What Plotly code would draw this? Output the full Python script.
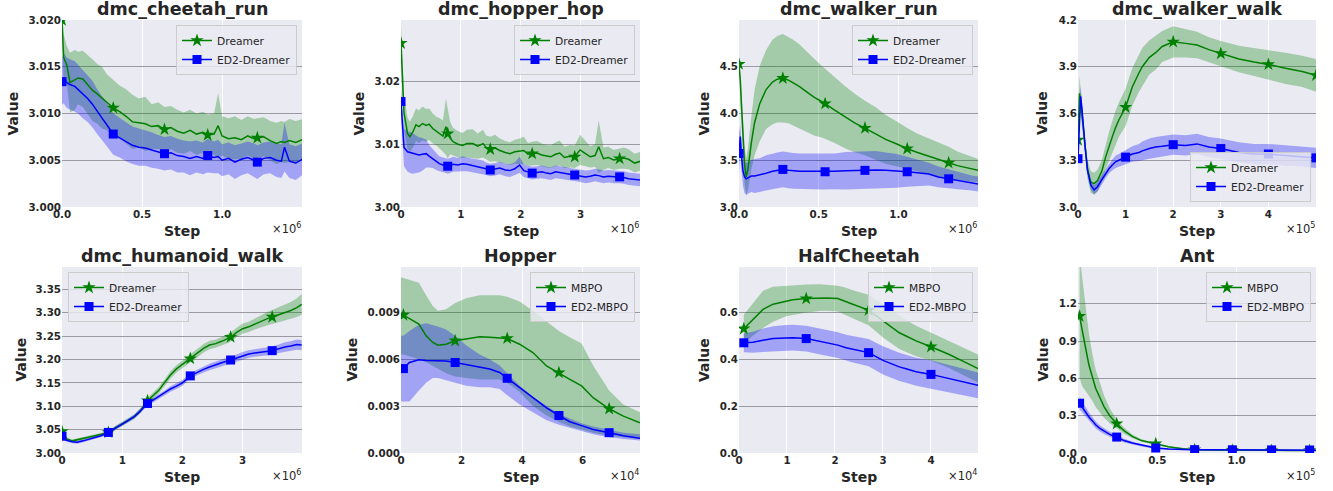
import plotly.graph_objects as go

# ---------------- data ----------------
# dmc_cheetah_run (Step in units of 1e6)
CHEETAH_STEP = [0, 0.01, 0.03, 0.05, 0.08, 0.1, 0.13, 0.16, 0.19, 0.22, 0.25, 0.28, 0.32, 0.36, 0.4, 0.44, 0.48, 0.52, 0.56, 0.6,
                0.64, 0.68, 0.72, 0.76, 0.8, 0.84, 0.88, 0.91, 0.95, 0.975, 1.0, 1.04, 1.08, 1.12, 1.16, 1.2, 1.22, 1.26, 1.3, 1.34,
                1.37, 1.39, 1.42, 1.46, 1.5]
CHEETAH_DREAMER = [3.0200, 3.0160, 3.0152, 3.0133, 3.0136, 3.0138, 3.0137, 3.0131, 3.0125, 3.0121, 3.0117, 3.0112, 3.0106, 3.0102,
                   3.0097, 3.0091, 3.0090, 3.0089, 3.0086, 3.0087, 3.0083, 3.0085, 3.0081, 3.0079, 3.0082, 3.0078, 3.0080, 3.0077,
                   3.0078, 3.0087, 3.0076, 3.0073, 3.0074, 3.0072, 3.0076, 3.0073, 3.0074, 3.0075, 3.0071, 3.0068, 3.0070, 3.0069,
                   3.0071, 3.0069, 3.0072]
CHEETAH_DREAMER_STD = [0.0015, 0.0025, 0.0020, 0.0032, 0.0032, 0.0028, 0.0030, 0.0032, 0.0033, 0.0032, 0.0033, 0.0030, 0.0030, 0.0028,
                       0.0029, 0.0029, 0.0026, 0.0029, 0.0024, 0.0025, 0.0024, 0.0023, 0.0023, 0.0022, 0.0022, 0.0022, 0.0022, 0.0022,
                       0.0022, 0.0035, 0.0021, 0.0022, 0.0023, 0.0021, 0.0021, 0.0021, 0.0021, 0.0021, 0.0021, 0.0022, 0.0022, 0.0022,
                       0.0023, 0.0023, 0.0022]
CHEETAH_ED2 = [3.0134, 3.0138, 3.0133, 3.0131, 3.0129, 3.0126, 3.0121, 3.0116, 3.0110, 3.0102, 3.0095, 3.0088, 3.0078, 3.0074,
               3.0070, 3.0066, 3.0064, 3.0063, 3.0061, 3.0059, 3.0057, 3.0058, 3.0055, 3.0054, 3.0052, 3.0054, 3.0052, 3.0055,
               3.0053, 3.0054, 3.0050, 3.0052, 3.0048, 3.0051, 3.0053, 3.0050, 3.0048, 3.0052, 3.0053, 3.0050, 3.0049, 3.0064,
               3.0049, 3.0047, 3.0051]
CHEETAH_ED2_STD = [0.0025, 0.0027, 0.0027, 0.0027, 0.0027, 0.0026, 0.0026, 0.0025, 0.0025, 0.0024, 0.0024, 0.0023, 0.0022, 0.0021,
                   0.0021, 0.0020, 0.0020, 0.0019, 0.0019, 0.0018, 0.0018, 0.0018, 0.0018, 0.0017, 0.0018, 0.0017, 0.0017, 0.0018,
                   0.0017, 0.0018, 0.0017, 0.0017, 0.0018, 0.0017, 0.0017, 0.0018, 0.0018, 0.0017, 0.0017, 0.0018, 0.0018, 0.0026,
                   0.0018, 0.0018, 0.0017]
CHEETAH_MARKS = [0, 0.32, 0.64, 0.91, 1.22]

# dmc_hopper_hop (Step in units of 1e6)
HOP_STEP = [0, 0.05, 0.11, 0.15, 0.2, 0.25, 0.3, 0.36, 0.42, 0.47, 0.53, 0.59, 0.64, 0.7, 0.75, 0.78, 0.82, 0.87, 0.95, 1.03,
            1.1, 1.2, 1.28, 1.37, 1.42, 1.49, 1.57, 1.65, 1.74, 1.82, 1.9, 1.98, 2.05, 2.12, 2.19, 2.27, 2.35, 2.43, 2.5, 2.58,
            2.65, 2.73, 2.82, 2.9, 2.99, 3.08, 3.16, 3.24, 3.3, 3.38, 3.46, 3.55, 3.65, 3.72, 3.8, 3.9, 4.0]
HOP_DREAMER = [3.0261, 3.0150, 3.0117, 3.0112, 3.0120, 3.0131, 3.0128, 3.0133, 3.0130, 3.0132,
               3.0125, 3.0121, 3.0118, 3.0113, 3.0128, 3.0117, 3.0110, 3.0104, 3.0100, 3.0098,
               3.0101, 3.0101, 3.0097, 3.0101, 3.0095, 3.0092, 3.0094, 3.0090, 3.0087, 3.0085,
               3.0088, 3.0089, 3.0090, 3.0084, 3.0085, 3.0086, 3.0083, 3.0081, 3.0080, 3.0084,
               3.0086, 3.0079, 3.0081, 3.0080, 3.0091, 3.0085, 3.0080, 3.0082, 3.0096, 3.0077,
               3.0079, 3.0075, 3.0077, 3.0078, 3.0076, 3.0070, 3.0073]
HOP_DREAMER_STD = [0.0030, 0.0028, 0.0025, 0.0024, 0.0025, 0.0026, 0.0026, 0.0027, 0.0026, 0.0025,
                   0.0024, 0.0023, 0.0024, 0.0025, 0.0045, 0.0040, 0.0026, 0.0022, 0.0021, 0.0020,
                   0.0022, 0.0023, 0.0020, 0.0022, 0.0019, 0.0020, 0.0021, 0.0019, 0.0018, 0.0018,
                   0.0019, 0.0020, 0.0022, 0.0018, 0.0019, 0.0019, 0.0018, 0.0018, 0.0018, 0.0019,
                   0.0020, 0.0017, 0.0018, 0.0018, 0.0024, 0.0020, 0.0017, 0.0018, 0.0042, 0.0018,
                   0.0017, 0.0016, 0.0016, 0.0017, 0.0016, 0.0015, 0.0015]
HOP_ED2 = [3.0168, 3.0095, 3.0088, 3.0087, 3.0085, 3.0084, 3.0083, 3.0084, 3.0085, 3.0081,
           3.0077, 3.0072, 3.0069, 3.0067, 3.0066, 3.0065, 3.0066, 3.0068, 3.0067, 3.0069,
           3.0068, 3.0066, 3.0064, 3.0063, 3.0061, 3.0059, 3.0060, 3.0062, 3.0059, 3.0058,
           3.0061, 3.0067, 3.0058, 3.0056, 3.0054, 3.0055, 3.0056, 3.0054, 3.0053, 3.0056,
           3.0055, 3.0054, 3.0052, 3.0051, 3.0050, 3.0048, 3.0049, 3.0051, 3.0050, 3.0048,
           3.0049, 3.0048, 3.0048, 3.0047, 3.0045, 3.0044, 3.0043]
HOP_ED2_STD = [0.0020, 0.0030, 0.0032, 0.0033, 0.0032, 0.0030, 0.0028, 0.0026, 0.0022, 0.0018,
               0.0015, 0.0013, 0.0012, 0.0012, 0.0012, 0.0012, 0.0012, 0.0012, 0.0011, 0.0012,
               0.0011, 0.0011, 0.0011, 0.0011, 0.0010, 0.0010, 0.0010, 0.0010, 0.0010, 0.0010,
               0.0010, 0.0013, 0.0010, 0.0010, 0.0010, 0.0010, 0.0010, 0.0010, 0.0010, 0.0010,
               0.0010, 0.0010, 0.0010, 0.0010, 0.0010, 0.0010, 0.0010, 0.0010, 0.0010, 0.0010,
               0.0010, 0.0010, 0.0010, 0.0010, 0.0010, 0.0010, 0.0010]
HOP_MARKS = [0, 0.78, 1.49, 2.19, 2.9, 3.65]

# dmc_walker_run (Step in units of 1e6)
WRUN_STEP = [0, 0.008, 0.015, 0.025, 0.035, 0.045, 0.056, 0.077, 0.098, 0.13, 0.17, 0.21, 0.24, 0.275, 0.31, 0.34, 0.38, 0.42,
             0.47, 0.52, 0.54, 0.6, 0.67, 0.73, 0.79, 0.86, 0.92, 0.99, 1.055, 1.12, 1.19, 1.25, 1.315, 1.37, 1.42, 1.46, 1.5]
WRUN_DREAMER = [4.52, 4.35, 4.10, 3.75, 3.45, 3.32, 3.40, 3.68, 3.90, 4.10,
                4.25, 4.33, 4.36, 4.37, 4.35, 4.32, 4.28, 4.23, 4.17, 4.12,
                4.10, 4.03, 3.95, 3.89, 3.84, 3.78, 3.72, 3.67, 3.62, 3.58,
                3.54, 3.50, 3.47, 3.44, 3.42, 3.40, 3.39]
WRUN_DREAMER_STD = [0.04, 0.08, 0.15, 0.20, 0.20, 0.20, 0.22, 0.28, 0.35, 0.40,
                    0.42, 0.45, 0.46, 0.47, 0.46, 0.46, 0.45, 0.43, 0.41, 0.38,
                    0.37, 0.35, 0.33, 0.31, 0.29, 0.28, 0.26, 0.24, 0.22, 0.20,
                    0.19, 0.18, 0.17, 0.15, 0.14, 0.13, 0.12]
WRUN_ED2 = [3.57, 3.75, 3.55, 3.38, 3.32, 3.30, 3.31, 3.33, 3.33, 3.34,
            3.36, 3.38, 3.39, 3.40, 3.39, 3.385, 3.38, 3.38, 3.38, 3.375,
            3.375, 3.38, 3.385, 3.39, 3.39, 3.395, 3.39, 3.385, 3.375, 3.365,
            3.35, 3.32, 3.30, 3.28, 3.27, 3.255, 3.245]
WRUN_ED2_STD = [0.22, 0.12, 0.15, 0.16, 0.17, 0.17, 0.17, 0.17, 0.18, 0.18,
                0.19, 0.19, 0.19, 0.19, 0.19, 0.19, 0.19, 0.19, 0.19, 0.19,
                0.19, 0.19, 0.20, 0.20, 0.20, 0.20, 0.19, 0.18, 0.16, 0.14,
                0.12, 0.11, 0.10, 0.09, 0.085, 0.08, 0.08]
WRUN_MARKS = [0, 0.275, 0.54, 0.79, 1.055, 1.315]

# dmc_walker_walk (Step in units of 1e5)
WWALK_STEP = [0, 0.03, 0.055, 0.08, 0.11, 0.15, 0.2, 0.27, 0.34, 0.41, 0.5, 0.58, 0.65, 0.72, 0.79, 0.86, 1.0, 1.14, 1.28,
              1.35, 1.5, 1.63, 1.77, 2.0, 2.26, 2.5, 2.75, 3.0, 3.38, 3.7, 4.0, 4.36, 4.71, 5.0]
WWALK_DREAMER = [3.43, 3.73, 3.68, 3.60, 3.50, 3.37, 3.24, 3.16, 3.15, 3.17,
                 3.23, 3.32, 3.39, 3.45, 3.51, 3.56, 3.64, 3.77, 3.86, 3.90,
                 3.96, 3.99, 4.03, 4.06, 4.05, 4.04, 4.01, 3.985, 3.95, 3.93,
                 3.915, 3.89, 3.87, 3.845]
WWALK_DREAMER_STD = [0.03, 0.11, 0.08, 0.07, 0.06, 0.06, 0.06, 0.07, 0.07, 0.07,
                     0.07, 0.08, 0.09, 0.10, 0.11, 0.11, 0.12, 0.12, 0.12, 0.12,
                     0.11, 0.11, 0.10, 0.10, 0.09, 0.085, 0.08, 0.08, 0.085, 0.09,
                     0.095, 0.10, 0.10, 0.105]
WWALK_ED2 = [3.31, 3.55, 3.71, 3.64, 3.52, 3.385, 3.235, 3.14, 3.11, 3.13,
             3.175, 3.215, 3.245, 3.27, 3.29, 3.30, 3.32, 3.34, 3.35, 3.36,
             3.375, 3.385, 3.39, 3.40, 3.395, 3.405, 3.385, 3.375, 3.35, 3.34,
             3.34, 3.33, 3.325, 3.315]
WWALK_ED2_STD = [0.02, 0.05, 0.07, 0.05, 0.04, 0.03, 0.03, 0.03, 0.03, 0.03,
                 0.03, 0.03, 0.03, 0.035, 0.04, 0.04, 0.045, 0.05, 0.055, 0.06,
                 0.065, 0.065, 0.065, 0.065, 0.065, 0.065, 0.065, 0.065, 0.065, 0.065,
                 0.065, 0.065, 0.065, 0.065]
WWALK_MARKS = [0, 1.0, 2.0, 3.0, 4.0, 5.0]

# dmc_humanoid_walk (Step in units of 1e6)
HUM_STEP = [0, 0.08, 0.17, 0.25, 0.35, 0.45, 0.55, 0.65, 0.77, 0.9, 1.0, 1.1, 1.2, 1.3, 1.42, 1.5, 1.6, 1.7, 1.8, 1.9,
            2.0, 2.13, 2.25, 2.35, 2.45, 2.55, 2.65, 2.8, 2.9, 3.0, 3.1, 3.2, 3.3, 3.4, 3.49, 3.6, 3.7, 3.8, 3.9, 3.98]
HUM_DREAMER = [3.046, 3.030, 3.026, 3.028, 3.031, 3.034, 3.037, 3.040, 3.044, 3.055,
               3.062, 3.070, 3.078, 3.090, 3.112, 3.122, 3.133, 3.150, 3.167, 3.180,
               3.190, 3.202, 3.213, 3.224, 3.231, 3.234, 3.239, 3.248, 3.258, 3.266,
               3.270, 3.276, 3.282, 3.287, 3.291, 3.296, 3.300, 3.305, 3.311, 3.318]
HUM_DREAMER_STD = [0.004, 0.003, 0.003, 0.003, 0.003, 0.003, 0.003, 0.003, 0.003, 0.004,
                   0.005, 0.005, 0.005, 0.005, 0.006, 0.006, 0.007, 0.007, 0.008, 0.008,
                   0.008, 0.008, 0.008, 0.009, 0.009, 0.009, 0.009, 0.010, 0.010, 0.011,
                   0.011, 0.012, 0.013, 0.014, 0.015, 0.016, 0.017, 0.018, 0.020, 0.022]
HUM_ED2 = [3.036, 3.027, 3.024, 3.023, 3.026, 3.030, 3.033, 3.037, 3.044, 3.055,
           3.062, 3.070, 3.078, 3.090, 3.106, 3.112, 3.120, 3.128, 3.137, 3.143,
           3.150, 3.165, 3.173, 3.179, 3.184, 3.189, 3.193, 3.199, 3.203, 3.208,
           3.212, 3.214, 3.216, 3.218, 3.219, 3.223, 3.227, 3.229, 3.232, 3.231]
HUM_ED2_STD = [0.006, 0.003, 0.003, 0.003, 0.003, 0.003, 0.003, 0.003, 0.003, 0.004,
               0.004, 0.004, 0.004, 0.005, 0.005, 0.005, 0.005, 0.005, 0.006, 0.006,
               0.006, 0.006, 0.006, 0.007, 0.007, 0.007, 0.007, 0.007, 0.008, 0.008,
               0.008, 0.008, 0.008, 0.009, 0.009, 0.009, 0.010, 0.010, 0.011, 0.011]
HUM_MARKS = [0, 0.77, 1.42, 2.13, 2.8, 3.49]

# Hopper (Step in units of 1e4)
HOPPER_STEP = [0, 0.08, 0.28, 0.59, 0.83, 1.05, 1.22, 1.49, 1.79, 2.15, 2.6, 2.93, 3.26, 3.51, 3.92, 4.36, 4.81, 5.22,
               5.58, 5.97, 6.35, 6.88, 7.35, 7.9]
HOPPER_MBPO = [0.0088, 0.00883, 0.0086, 0.00825, 0.0075, 0.00707, 0.0069, 0.00696, 0.00718, 0.00729,
               0.00744, 0.00741, 0.00737, 0.00733, 0.00696, 0.00643, 0.00557, 0.00514, 0.00471, 0.00429,
               0.00354, 0.00283, 0.00236, 0.00193]
HOPPER_MBPO_LO = [0.0063, 0.0063, 0.0062, 0.0060, 0.0058, 0.0056, 0.0054, 0.0051, 0.0049, 0.0048,
                  0.0047, 0.0047, 0.0047, 0.0045, 0.0039, 0.0030, 0.0024, 0.0020, 0.0017, 0.0015,
                  0.0013, 0.0011, 0.0010, 0.0009]
HOPPER_MBPO_HI = [0.01125, 0.0112, 0.0111, 0.0109, 0.0101, 0.0094, 0.0091, 0.0092, 0.0096, 0.0099,
                  0.0101, 0.0101, 0.0101, 0.0100, 0.0097, 0.0091, 0.0084, 0.0078, 0.0074, 0.0070,
                  0.0056, 0.0040, 0.0031, 0.0026]
HOPPER_ED2 = [0.0054, 0.0054, 0.00579, 0.00596, 0.00592, 0.00591, 0.00594, 0.00588, 0.00579, 0.00565,
              0.0055, 0.00537, 0.00515, 0.00478, 0.00418, 0.00354, 0.00289, 0.0024, 0.0020, 0.00175,
              0.0015, 0.0013, 0.0011, 0.00094]
HOPPER_ED2_LO = [0.0033, 0.0033, 0.0033, 0.0040, 0.0045, 0.0048, 0.0048, 0.0047, 0.0045, 0.0043,
                 0.0042, 0.0042, 0.0041, 0.0037, 0.0031, 0.0026, 0.0021, 0.0018, 0.0016, 0.0014,
                 0.0012, 0.0010, 0.0009, 0.0008]
HOPPER_ED2_HI = [0.0075, 0.0075, 0.0078, 0.0082, 0.0083, 0.0082, 0.0081, 0.0079, 0.0075, 0.0069,
                 0.0063, 0.0060, 0.0056, 0.0051, 0.0043, 0.0036, 0.0030, 0.0025, 0.0022, 0.0019,
                 0.0017, 0.0015, 0.0013, 0.0012]
HOPPER_MARKS = [0.08, 1.79, 3.51, 5.22, 6.88]

# HalfCheetah (Step in units of 1e4)
HC_STEP = [0.1, 0.29, 0.5, 0.71, 0.98, 1.12, 1.4, 1.68, 1.82, 2.06, 2.23, 2.37, 2.7, 3.0, 3.34, 3.48, 3.69, 4.0, 4.38,
           4.73, 4.98]
HC_MBPO = [0.531, 0.571, 0.614, 0.636, 0.650, 0.655, 0.660, 0.664, 0.663, 0.660, 0.648, 0.636, 0.611, 0.564, 0.514,
           0.500, 0.479, 0.454, 0.421, 0.386, 0.361]
HC_MBPO_STD = [0.06, 0.07, 0.08, 0.075, 0.065, 0.063, 0.06, 0.057, 0.055, 0.055, 0.058, 0.06, 0.065, 0.07, 0.07,
               0.068, 0.065, 0.06, 0.058, 0.059, 0.06]
HC_ED2 = [0.471, 0.473, 0.482, 0.489, 0.492, 0.493, 0.489, 0.477, 0.471, 0.461, 0.450, 0.443, 0.429, 0.396, 0.368,
          0.360, 0.347, 0.336, 0.317, 0.300, 0.289]
HC_ED2_STD = [0.04, 0.045, 0.05, 0.053, 0.055, 0.055, 0.055, 0.055, 0.055, 0.055, 0.055, 0.056, 0.058, 0.06, 0.06,
              0.06, 0.06, 0.06, 0.058, 0.056, 0.055]
HC_MARKS = [0.1, 1.4, 2.7, 4.0]

# Ant (Step in units of 1e5)
ANT_STEP = [0.01, 0.025, 0.038, 0.05, 0.069, 0.09, 0.111, 0.14, 0.164, 0.2, 0.244, 0.29, 0.342, 0.4, 0.49, 0.57, 0.66,
            0.735, 0.85, 0.973, 1.1, 1.22, 1.34, 1.46, 1.5]
ANT_MBPO = [1.099, 0.99, 0.907, 0.83, 0.707, 0.61, 0.52, 0.44, 0.373, 0.30, 0.235, 0.18, 0.133, 0.10, 0.075, 0.05,
            0.035, 0.027, 0.024, 0.022, 0.021, 0.021, 0.021, 0.021, 0.021]
ANT_MBPO_STD = [0.49, 0.45, 0.39, 0.33, 0.25, 0.19, 0.15, 0.12, 0.09, 0.06, 0.035, 0.025, 0.015, 0.01, 0.008, 0.005,
                0.005, 0.005, 0.005, 0.005, 0.005, 0.005, 0.005, 0.005, 0.005]
ANT_ED2 = [0.40, 0.37, 0.345, 0.325, 0.29, 0.26, 0.227, 0.195, 0.175, 0.15, 0.128, 0.10, 0.08, 0.062, 0.04, 0.032,
           0.027, 0.027, 0.026, 0.026, 0.025, 0.025, 0.025, 0.024, 0.022]
ANT_ED2_STD = [0.05, 0.045, 0.042, 0.04, 0.035, 0.03, 0.028, 0.025, 0.022, 0.02, 0.018, 0.015, 0.012, 0.01, 0.008,
               0.005, 0.005, 0.005, 0.005, 0.005, 0.005, 0.005, 0.005, 0.005, 0.005]
ANT_MARKS = [0.01, 0.244, 0.49, 0.735, 0.973, 1.22, 1.46]

# ---------------- panel definitions ----------------
PANELS = [
    dict(title="dmc_cheetah_run", step=CHEETAH_STEP, marks=CHEETAH_MARKS,
         series=[dict(name="Dreamer", mean=CHEETAH_DREAMER, std=CHEETAH_DREAMER_STD),
                 dict(name="ED2-Dreamer", mean=CHEETAH_ED2, std=CHEETAH_ED2_STD)],
         xr=[0, 1.499], xt=[0, 0.5, 1.0], xf=".1f", yr=[3.0, 3.02], yt=[3.0, 3.005, 3.01, 3.015, 3.02], yf=".3f",
         exp="6", leg="tr"),
    dict(title="dmc_hopper_hop", step=HOP_STEP, marks=HOP_MARKS,
         series=[dict(name="Dreamer", mean=HOP_DREAMER, std=HOP_DREAMER_STD),
                 dict(name="ED2-Dreamer", mean=HOP_ED2, std=HOP_ED2_STD)],
         xr=[0, 3.99], xt=[0, 1, 2, 3], xf=".0f", yr=[3.0, 3.0298], yt=[3.0, 3.01, 3.02], yf=".2f",
         exp="6", leg="tr"),
    dict(title="dmc_walker_run", step=WRUN_STEP, marks=WRUN_MARKS,
         series=[dict(name="Dreamer", mean=WRUN_DREAMER, std=WRUN_DREAMER_STD),
                 dict(name="ED2-Dreamer", mean=WRUN_ED2, std=WRUN_ED2_STD)],
         xr=[0, 1.499], xt=[0, 0.5, 1.0], xf=".1f", yr=[3.0, 4.99], yt=[3.0, 3.5, 4.0, 4.5], yf=".1f",
         exp="6", leg="tr"),
    dict(title="dmc_walker_walk", step=WWALK_STEP, marks=WWALK_MARKS,
         series=[dict(name="Dreamer", mean=WWALK_DREAMER, std=WWALK_DREAMER_STD),
                 dict(name="ED2-Dreamer", mean=WWALK_ED2, std=WWALK_ED2_STD)],
         xr=[0, 5.0], xt=[0, 1, 2, 3, 4], xf=".0f", yr=[3.0, 4.2], yt=[3.0, 3.3, 3.6, 3.9, 4.2], yf=".1f",
         exp="5", leg="br"),
    dict(title="dmc_humanoid_walk", step=HUM_STEP, marks=HUM_MARKS,
         series=[dict(name="Dreamer", mean=HUM_DREAMER, std=HUM_DREAMER_STD),
                 dict(name="ED2-Dreamer", mean=HUM_ED2, std=HUM_ED2_STD)],
         xr=[0, 3.985], xt=[0, 1, 2, 3], xf=".0f", yr=[3.0, 3.398],
         yt=[3.0, 3.05, 3.1, 3.15, 3.2, 3.25, 3.3, 3.35], yf=".2f", exp="6", leg="tl"),
    dict(title="Hopper", step=HOPPER_STEP, marks=HOPPER_MARKS,
         series=[dict(name="MBPO", mean=HOPPER_MBPO, lo=HOPPER_MBPO_LO, hi=HOPPER_MBPO_HI),
                 dict(name="ED2-MBPO", mean=HOPPER_ED2, lo=HOPPER_ED2_LO, hi=HOPPER_ED2_HI)],
         xr=[0, 7.9], xt=[0, 2, 4, 6], xf=".0f", yr=[0, 0.0119], yt=[0, 0.003, 0.006, 0.009], yf=".3f",
         exp="4", leg="tr"),
    dict(title="HalfCheetah", step=HC_STEP, marks=HC_MARKS,
         series=[dict(name="MBPO", mean=HC_MBPO, std=HC_MBPO_STD),
                 dict(name="ED2-MBPO", mean=HC_ED2, std=HC_ED2_STD)],
         xr=[0, 4.98], xt=[0, 1, 2, 3, 4], xf=".0f", yr=[0, 0.795], yt=[0, 0.2, 0.4, 0.6], yf=".1f",
         exp="4", leg="tr"),
    dict(title="Ant", step=ANT_STEP, marks=ANT_MARKS,
         series=[dict(name="MBPO", mean=ANT_MBPO, std=ANT_MBPO_STD),
                 dict(name="ED2-MBPO", mean=ANT_ED2, std=ANT_ED2_STD)],
         xr=[0, 1.5], xt=[0, 0.5, 1.0], xf=".1f", yr=[0, 1.495], yt=[0, 0.3, 0.6, 0.9, 1.2], yf=".1f",
         exp="5", leg="tr"),
]

# ---------------- styling / layout ----------------
W, H = 1333, 491
FONT = "DejaVu Sans"
TXT = "#262626"
BG = "#EAEAF2"
STYLES = [dict(line="#008000", fill="rgba(0,128,0,0.3)", sym="star", size=10),
          dict(line="#0000ff", fill="rgba(0,0,255,0.3)", sym="square", size=9)]
# plot boxes in page pixels: left, right, top, bottom
BOXES = [(62, 302, 20, 207), (401, 640, 20, 207), (739, 978, 20, 207), (1078, 1316, 20, 207),
         (62, 302, 267, 453), (401, 640, 267, 453), (739, 978, 267, 453), (1078, 1316, 267, 453)]
VALUE_OFFSET = [49, 42, 35, 35.5, 41.5, 49.5, 35, 35.5]


def fx(x):
    return x / W


def fy(y):
    return 1 - y / H


fig = go.Figure()
layout = dict(width=W, height=H, margin=dict(l=0, r=0, t=0, b=0), paper_bgcolor="white",
              plot_bgcolor=BG, font=dict(family=FONT, color=TXT), annotations=[], showlegend=True)

for i, p in enumerate(PANELS):
    k = i + 1
    sfx = "" if k == 1 else str(k)
    xa, ya, lg = "x" + sfx, "y" + sfx, "legend" + sfx
    l, r, t, b = BOXES[i]
    step = p["step"]
    for s in p["series"]:
        assert len(s["mean"]) == len(step), (p["title"], s["name"])
    # shaded bands
    for s, st in zip(p["series"], STYLES):
        if "std" in s:
            hi = [m + d for m, d in zip(s["mean"], s["std"])]
            lo = [m - d for m, d in zip(s["mean"], s["std"])]
        else:
            hi, lo = s["hi"], s["lo"]
        fig.add_trace(go.Scatter(x=list(step) + list(step)[::-1], y=list(hi) + list(lo)[::-1], fill="toself",
                                 fillcolor=st["fill"], line=dict(width=0), mode="lines", hoverinfo="skip",
                                 showlegend=False, xaxis=xa, yaxis=ya))
    # mean lines + markers
    for s, st in zip(p["series"], STYLES):
        fig.add_trace(go.Scatter(x=step, y=s["mean"], mode="lines", line=dict(color=st["line"], width=1.5),
                                 showlegend=False, xaxis=xa, yaxis=ya))
        idx = [step.index(m) for m in p["marks"]]
        fig.add_trace(go.Scatter(x=[step[j] for j in idx], y=[s["mean"][j] for j in idx], mode="markers",
                                 marker=dict(symbol=st["sym"], size=st["size"], color=st["line"], line=dict(width=0)),
                                 showlegend=False, xaxis=xa, yaxis=ya))
        fig.add_trace(go.Scatter(x=[None], y=[None], mode="lines+markers", name=s["name"],
                                 line=dict(color=st["line"], width=1.5),
                                 marker=dict(symbol=st["sym"], size=st["size"], color=st["line"], line=dict(width=0)),
                                 legend=lg, xaxis=xa, yaxis=ya))

    tickfont = dict(family=FONT, size=10.3, color=TXT, weight="bold")
    layout["xaxis" + sfx] = dict(domain=[fx(l), fx(r)], anchor=ya, range=p["xr"], tickvals=p["xt"],
                                 tickformat=p["xf"], showgrid=True, gridcolor="white", gridwidth=1,
                                 zeroline=False, showline=False, ticks="", tickfont=tickfont, automargin=False)
    layout["yaxis" + sfx] = dict(domain=[fy(b), fy(t)], anchor=xa, range=p["yr"], tickvals=p["yt"],
                                 tickformat=p["yf"], showgrid=True, gridcolor="#9a9aa0", gridwidth=1,
                                 zeroline=False, showline=False, ticks="", tickfont=tickfont, automargin=False)
    # legend
    leg = dict(bgcolor="rgba(234,234,242,0.8)", bordercolor="#cccccc", borderwidth=1,
               font=dict(family=FONT, size=10.7, color=TXT), tracegroupgap=0, itemwidth=30)
    if p["leg"] == "tr":
        leg.update(x=fx(r - 5), y=fy(t + 5), xanchor="right", yanchor="top")
    elif p["leg"] == "br":
        leg.update(x=fx(r - 5), y=fy(b - 5), xanchor="right", yanchor="bottom")
    else:
        leg.update(x=fx(l + 6), y=fy(t + 5), xanchor="left", yanchor="top")
    layout[lg] = leg

    cx = (l + r) / 2
    cy = (t + b) / 2
    anns = layout["annotations"]
    anns.append(dict(text="<b>%s</b>" % p["title"], x=fx(cx), y=fy(t - 11), xref="paper", yref="paper",
                     xanchor="center", yanchor="middle", showarrow=False,
                     font=dict(family=FONT, size=17.5, color=TXT)))
    anns.append(dict(text="<b>Step</b>", x=fx(cx), y=fy(b + 24), xref="paper", yref="paper",
                     xanchor="center", yanchor="middle", showarrow=False,
                     font=dict(family=FONT, size=14, color=TXT)))
    anns.append(dict(text="<b>Value</b>", x=fx(l - VALUE_OFFSET[i]), y=fy(cy), xref="paper", yref="paper",
                     xanchor="center", yanchor="middle", showarrow=False, textangle=-90,
                     font=dict(family=FONT, size=14, color=TXT)))
    anns.append(dict(text="×10<sup>%s</sup>" % p["exp"], x=fx(r + 1), y=fy(b + 22), xref="paper", yref="paper",
                     xanchor="right", yanchor="middle", showarrow=False,
                     font=dict(family=FONT, size=11.5, color=TXT)))

fig.update_layout(**layout)
# the default html body has an 8px margin; remove it so the figure sits at the page origin
fig.write_html("out.html", config={"displayModeBar": False},
               post_script="document.body.style.margin='0';document.body.style.overflow='hidden';")
